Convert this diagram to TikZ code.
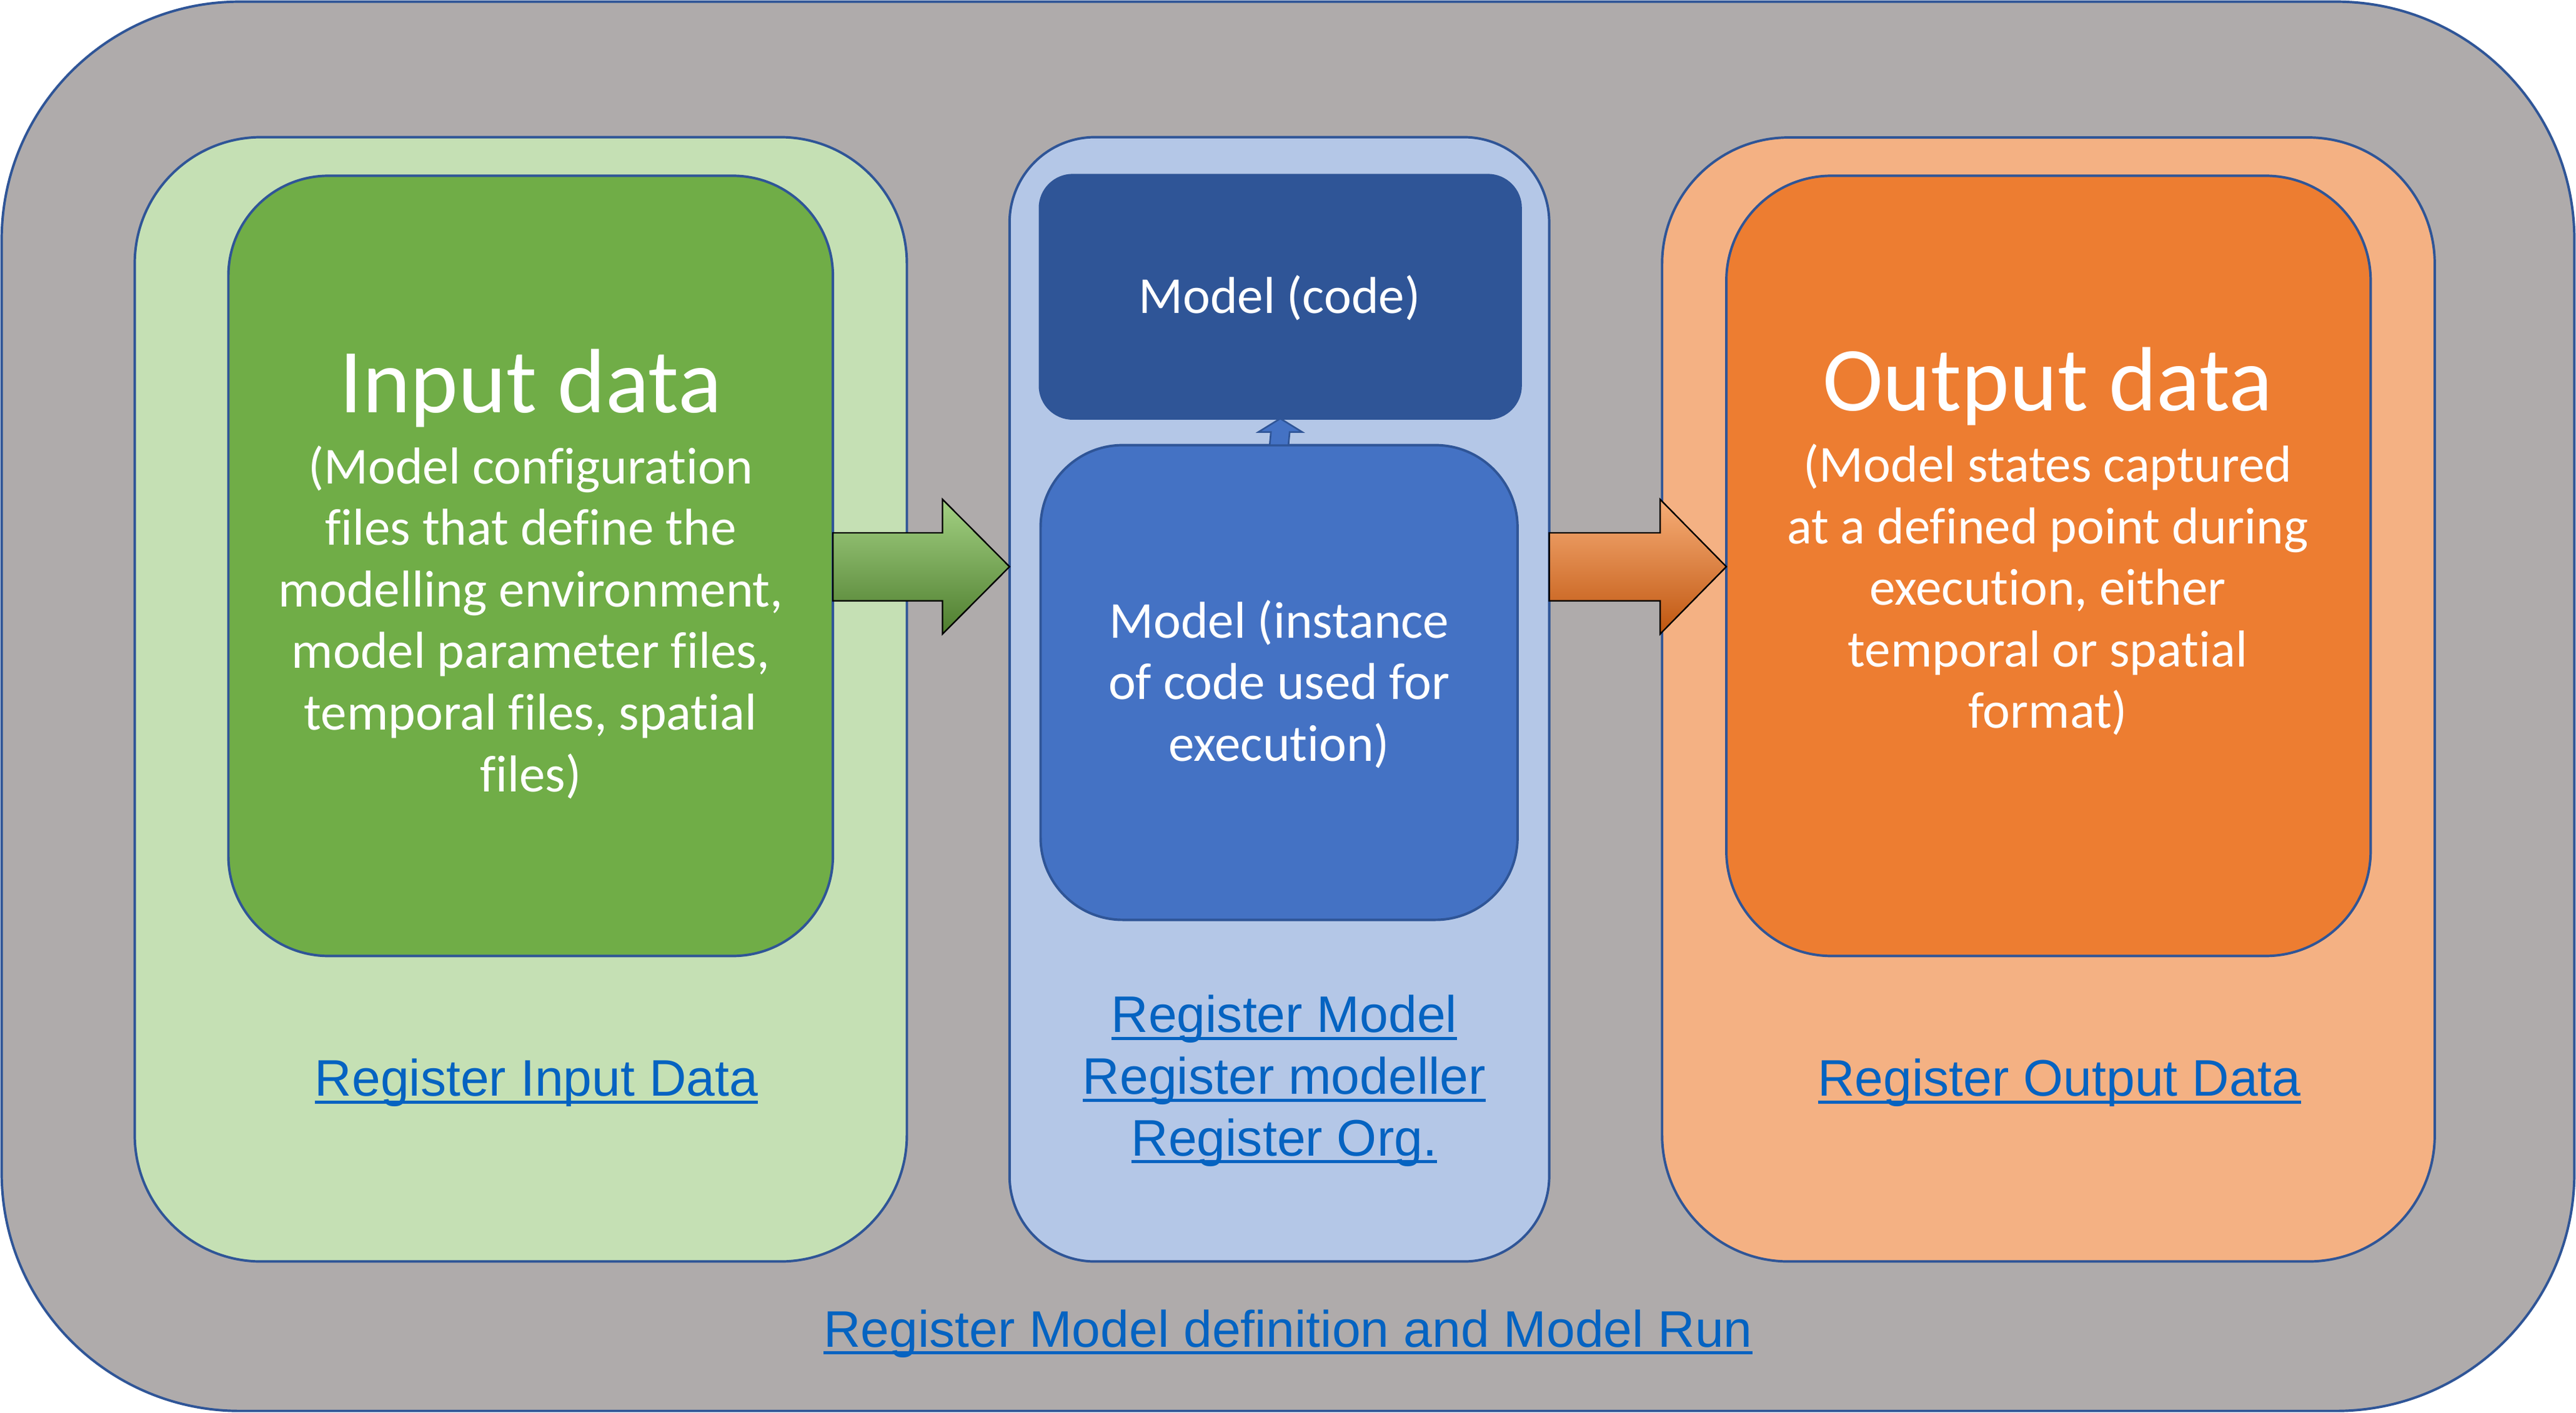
\documentclass[tikz,border=0pt]{standalone}
\usepackage{fontspec}
\newfontfamily\calfont[Ligatures=NoCommon]{Carlito}
\newfontfamily\arlfont{Liberation Sans}
\usetikzlibrary{calc}
\definecolor{bordblue}{HTML}{2F5597}
\definecolor{greybg}{HTML}{AFABAB}
\definecolor{gout}{HTML}{C5E0B4}
\definecolor{gin}{HTML}{70AD47}
\definecolor{bout}{HTML}{B4C7E7}
\definecolor{bcode}{HTML}{2F5597}
\definecolor{binst}{HTML}{4472C4}
\definecolor{oout}{HTML}{F4B183}
\definecolor{oin}{HTML}{ED7D31}
\definecolor{linkblue}{HTML}{0563C1}
\definecolor{garrtop}{HTML}{A3D183}
\definecolor{garrmid}{HTML}{75B04B}
\definecolor{garrbot}{HTML}{4E7D2E}
\definecolor{oarrtop}{HTML}{F7AE78}
\definecolor{oarrmid}{HTML}{EE7F33}
\definecolor{oarrbot}{HTML}{C0560F}
\newcommand\lnk[1]{\setbox0\hbox{#1}\rlap{\rule[-4.6pt]{\wd0}{1.9pt}}\box0}
\tikzset{
  panel/.style={draw=bordblue, line width=1.5pt, rectangle, inner sep=0pt, outer sep=0pt, anchor=north west},
  titletext/.style={text=white, font=\calfont\fontsize{55.6}{60}\selectfont, inner sep=0pt, anchor=base},
  bodytext/.style={text=white, font=\calfont\fontsize{31.6}{37.5}\selectfont, align=center, inner sep=0pt, anchor=base},
  linktext/.style={text=linkblue, font=\arlfont\fontsize{31.3}{37.6}\selectfont, align=center, inner sep=0pt, anchor=base},
  blockarrow/.style={draw=black, line width=0.9pt, line join=miter},
}
\begin{document}
\begin{tikzpicture}[x=1pt,y=-1pt]
\useasboundingbox (0,0) rectangle (1568,860.2);
% outer
\node[panel, fill=greybg, rounded corners=145pt, minimum width=1566pt, minimum height=858pt] (outer) at (1,1) {};
% green
\node[panel, fill=gout, rounded corners=77pt, minimum width=470pt, minimum height=684.5pt] (go) at (82,83.5) {};
\node[panel, fill=gin, rounded corners=61pt, minimum width=368pt, minimum height=475pt] (gi) at (139,107) {};
% blue
\node[panel, fill=bout, rounded corners=52pt, minimum width=328.5pt, minimum height=684.5pt] (bo) at (614.5,83.5) {};
\node[panel, draw=bcode, fill=bcode, rounded corners=20pt, minimum width=292.6pt, minimum height=148.2pt] (mc) at (633,106.6) {};
\node[panel, fill=binst, rounded corners=50pt, minimum width=290.3pt, minimum height=289pt] (mi) at (633.4,271) {};
% orange
\node[panel, fill=oout, rounded corners=77pt, minimum width=470.3pt, minimum height=684.3pt] (oo) at (1011.7,83.7) {};
\node[panel, fill=oin, rounded corners=64pt, minimum width=392.2pt, minimum height=475pt] (oi) at (1050.8,107) {};

% small up arrow between model boxes
\coordinate (ua) at (mc.south);
\filldraw[fill=binst, draw=bordblue, line width=1pt, line join=miter]
  ($(mi.north)+(-5.7,0)$) -- ($(mc.south)+(-5.7,8.2)$) -- ($(mc.south)+(-13.3,8.2)$) -- (ua)
  -- ($(mc.south)+(13.3,8.2)$) -- ($(mc.south)+(5.7,8.2)$) -- ($(mi.north)+(5.7,0)$) -- cycle;

% green block arrow
\coordinate (gt) at (gi.east |- 0,345);
\coordinate (gtip) at (bo.west |- 0,345);
\path[blockarrow, shading=axis, top color=garrtop, middle color=garrmid, bottom color=garrbot, draw=black]
  ($(gt)+(0,-20.6)$) -- (573.7,324.4) -- (573.7,304) -- (gtip) -- (573.7,386) -- (573.7,365.8) -- ($(gt)+(0,20.8)$) -- cycle;
% orange block arrow
\coordinate (ot) at (bo.east |- 0,345);
\coordinate (otip) at (oi.west |- 0,345);
\path[blockarrow, shading=axis, top color=oarrtop, middle color=oarrmid, bottom color=oarrbot, draw=black]
  ($(ot)+(0,-20.6)$) -- (1010.5,324.4) -- (1010.5,304) -- (otip) -- (1010.5,386) -- (1010.5,365.8) -- ($(ot)+(0,20.8)$) -- cycle;

% texts (multi-line nodes: base = last line's baseline)
\node[titletext] (it) at (323,251.3) {Input data};
\node[bodytext] (ib) at (323,481.9) {(Model configuration\\files that define the\\modelling environment,\\model parameter files,\\temporal files, spatial\\files)};
\node[titletext] (ot2) at (1246.5,249.9) {Output data};
\node[bodytext] (ob) at (1246.5,443.4) {(Model states captured\\at a defined point during\\execution, either\\temporal or spatial\\format)};
\node[bodytext] (mct) at (778.8,190.6) {Model (code)};
\node[bodytext] (mit) at (778.6,463.3) {Model (instance\\of code used for\\execution)};

% links
\node[linktext] (l1) at (326.5,667.4) {\lnk{Register Input Data}};
\node[linktext] (l2) at (781.7,703.7) {\lnk{Register Model}\\\lnk{Register modeller}\\\lnk{Register Org.}};
\node[linktext] (l3) at (1253.5,667.2) {\lnk{Register Output Data}};
\node[linktext] (l4) at (784,820) {\lnk{Register Model definition and Model Run}};
\end{tikzpicture}
\end{document}
